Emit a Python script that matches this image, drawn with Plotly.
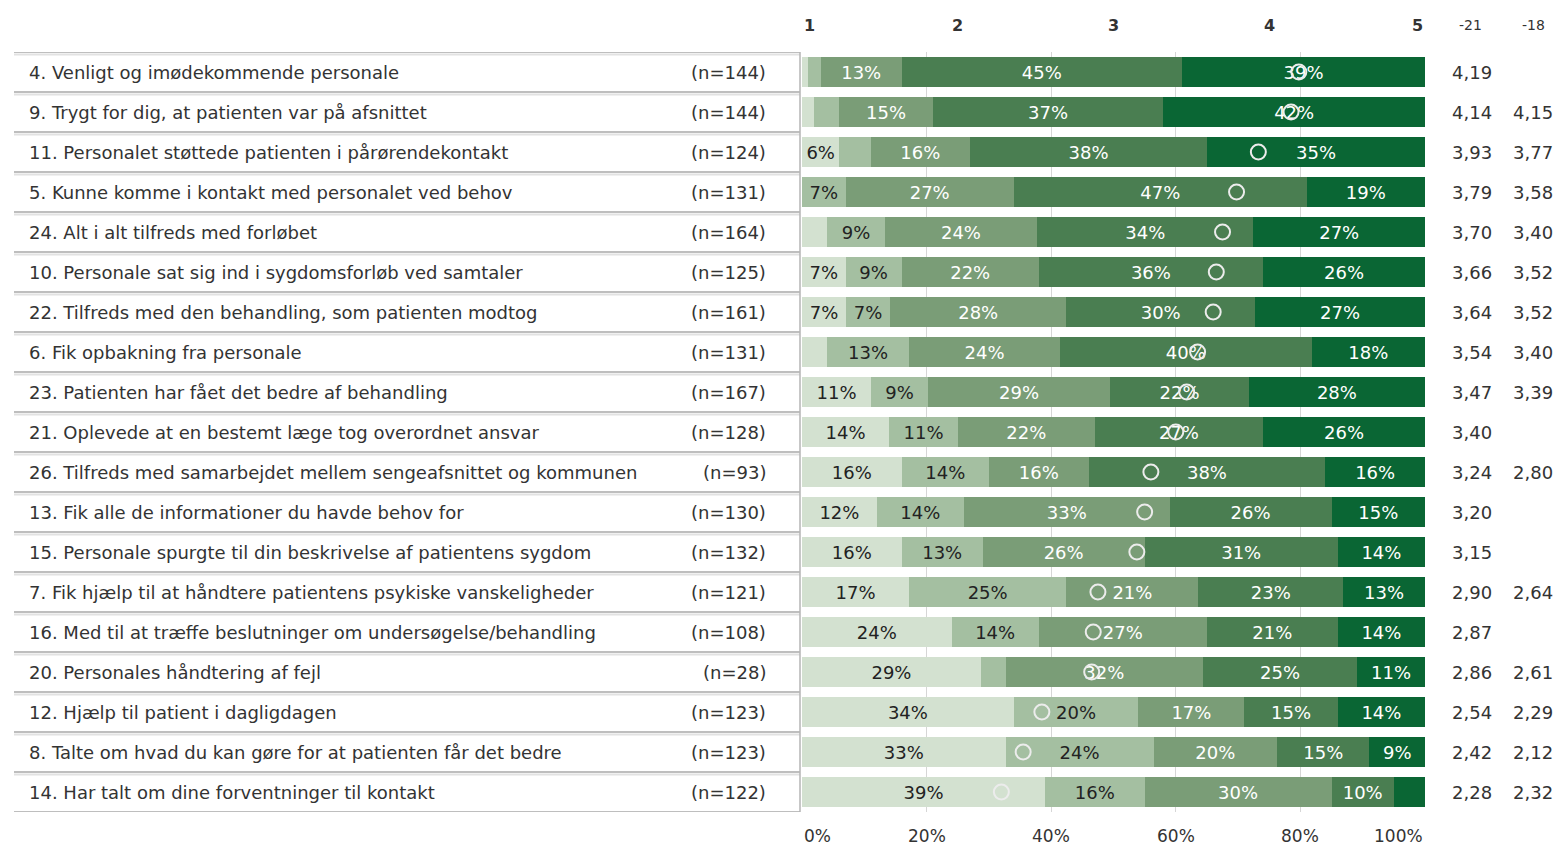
import plotly.graph_objects as go

questions = [
    "4. Venligt og imødekommende personale",
    "9. Trygt for dig, at patienten var på afsnittet",
    "11. Personalet støttede patienten i pårørendekontakt",
    "5. Kunne komme i kontakt med personalet ved behov",
    "24. Alt i alt tilfreds med forløbet",
    "10. Personale sat sig ind i sygdomsforløb ved samtaler",
    "22. Tilfreds med den behandling, som patienten modtog",
    "6. Fik opbakning fra personale",
    "23. Patienten har fået det bedre af behandling",
    "21. Oplevede at en bestemt læge tog overordnet ansvar",
    "26. Tilfreds med samarbejdet mellem sengeafsnittet og kommunen",
    "13. Fik alle de informationer du havde behov for",
    "15. Personale spurgte til din beskrivelse af patientens sygdom",
    "7. Fik hjælp til at håndtere patientens psykiske vanskeligheder",
    "16. Med til at træffe beslutninger om undersøgelse/behandling",
    "20. Personales håndtering af fejl",
    "12. Hjælp til patient i dagligdagen",
    "8. Talte om hvad du kan gøre for at patienten får det bedre",
    "14. Har talt om dine forventninger til kontakt",
]
n_values = [144, 144, 124, 131, 164, 125, 161, 131, 167, 128, 93, 130, 132, 121, 108, 28, 123, 123, 122]

share_1 = [1, 2, 6, 0, 4, 7, 7, 4, 11, 14, 16, 12, 16, 17, 24, 29, 34, 33, 39]
share_2 = [2, 4, 5, 7, 9, 9, 7, 13, 9, 11, 14, 14, 13, 25, 14, 4, 20, 24, 16]
share_3 = [13, 15, 16, 27, 24, 22, 28, 24, 29, 22, 16, 33, 26, 21, 27, 32, 17, 20, 30]
share_4 = [45, 37, 38, 47, 34, 36, 30, 40, 22, 27, 38, 26, 31, 23, 21, 25, 15, 15, 10]
share_5 = [39, 42, 35, 19, 27, 26, 27, 18, 28, 26, 16, 15, 14, 13, 14, 11, 14, 9, 5]

mean_2021 = [4.19, 4.14, 3.93, 3.79, 3.70, 3.66, 3.64, 3.54, 3.47, 3.40, 3.24, 3.20, 3.15, 2.90, 2.87, 2.86, 2.54, 2.42, 2.28]
mean_2018 = [None, 4.15, 3.77, 3.58, 3.40, 3.52, 3.52, 3.40, 3.39, None, 2.80, None, None, 2.64, None, 2.61, 2.29, 2.12, 2.32]

scale_ticks = [1, 2, 3, 4, 5]
pct_ticks = [0, 20, 40, 60, 80, 100]
col_headers = ["-21", "-18"]

colors = ["#d3e1d0", "#a4bfa1", "#7a9d77", "#4a7e51", "#0a6634"]
text_colors = ["#222222", "#222222", "#ffffff", "#ffffff", "#ffffff"]

W, H = 1557, 846
FONT = "DejaVu Sans"
rows = list(range(len(questions)))

fig = go.Figure()
for k, shares in enumerate([share_1, share_2, share_3, share_4, share_5]):
    fig.add_trace(go.Bar(
        x=shares, y=rows, orientation="h",
        marker=dict(color=colors[k], line=dict(width=0)),
        text=[f"{v}%" if v >= 6 else "" for v in shares],
        textposition="inside", insidetextanchor="middle", textangle=0,
        insidetextfont=dict(family=FONT, size=18, color=text_colors[k]),
        hoverinfo="skip", showlegend=False,
    ))

fig.add_trace(go.Scatter(
    x=mean_2021, y=rows, xaxis="x2", yaxis="y", mode="markers",
    marker=dict(symbol="circle-open", size=15, color="#ececec", line=dict(width=2)),
    hoverinfo="skip", showlegend=False,
))

x0p, x1p = 802 / W, 1425 / W
top_px, bot_px = 52, 812
ph = bot_px - top_px

annotations = []
for i, q in enumerate(questions):
    annotations.append(dict(x=27 / W, xref="paper", y=i, yref="y", text=q, showarrow=False,
                            xanchor="left", yanchor="middle",
                            font=dict(family=FONT, size=18, color="#333333")))
    annotations.append(dict(x=768 / W, xref="paper", y=i, yref="y", text=f"(n={n_values[i]})",
                            showarrow=False, xanchor="right", yanchor="middle",
                            font=dict(family=FONT, size=18, color="#333333")))
    for cx, vals in [(1472, mean_2021), (1533, mean_2018)]:
        v = vals[i]
        if v is not None:
            annotations.append(dict(x=cx / W, xref="paper", y=i, yref="y",
                                    text=f"{v:.2f}".replace(".", ","), showarrow=False,
                                    xanchor="center", yanchor="middle",
                                    font=dict(family=FONT, size=18, color="#333333")))

for cx, h in zip([1470, 1533], col_headers):
    annotations.append(dict(x=cx / W, xref="paper", y=1 + (top_px - 25) / ph, yref="paper",
                            text=h, showarrow=False, xanchor="center", yanchor="middle",
                            font=dict(family=FONT, size=14, color="#333333")))

for t in scale_ticks:
    anchor = "left" if t == scale_ticks[0] else ("right" if t == scale_ticks[-1] else "center")
    annotations.append(dict(x=t, xref="x2", y=1 + (top_px - 25) / ph, yref="paper",
                            text=f"<b>{t}</b>", showarrow=False, xanchor=anchor, yanchor="middle",
                            font=dict(family=FONT, size=16, color="#333333")))

for t in pct_ticks:
    anchor = "left" if t == pct_ticks[0] else ("right" if t == pct_ticks[-1] else "center")
    annotations.append(dict(x=t, xref="x", y=-(836 - bot_px) / ph, yref="paper",
                            text=f"{t}%", showarrow=False, xanchor=anchor, yanchor="middle",
                            font=dict(family=FONT, size=17, color="#333333")))

shapes = []
for i in range(len(questions) + 1):
    shapes.append(dict(type="line", xref="paper", yref="y", x0=14 / W, x1=800 / W,
                       y0=i - 0.5 + 0.06, y1=i - 0.5 + 0.06, line=dict(color="#e2e2e2", width=2)))
    shapes.append(dict(type="line", xref="paper", yref="y", x0=14 / W, x1=800 / W,
                       y0=i - 0.5, y1=i - 0.5, line=dict(color="#a9a9a9", width=1.5)))
shapes.append(dict(type="line", xref="paper", yref="y", x0=800 / W, x1=800 / W,
                   y0=-0.5, y1=len(questions) - 0.5, line=dict(color="#b5b5b5", width=1.5)))

fig.update_layout(
    width=W, height=H,
    margin=dict(l=0, r=0, t=top_px, b=H - bot_px, pad=0),
    paper_bgcolor="white", plot_bgcolor="white",
    barmode="stack", barnorm="percent", bargap=0.25,
    uniformtext=dict(minsize=18, mode="show"),
    xaxis=dict(domain=[x0p, x1p], range=[0, 100], tickvals=[20, 40, 60, 80],
               showgrid=True, gridcolor="#d6d6d6", gridwidth=1, zeroline=False,
               showticklabels=False, ticks="", showline=False, fixedrange=True),
    xaxis2=dict(domain=[x0p, x1p], range=[1, 5], overlaying="x", side="top",
                visible=False, fixedrange=True),
    yaxis=dict(range=[len(questions) - 0.5, -0.5], showgrid=False, zeroline=False,
               showticklabels=False, ticks="", showline=False, fixedrange=True),
    annotations=annotations,
    shapes=shapes,
    font=dict(family=FONT, color="#333333"),
)

fig.write_html("out.html", config={"displayModeBar": False},
               post_script="document.body.style.margin='0';document.body.style.overflow='hidden';")
